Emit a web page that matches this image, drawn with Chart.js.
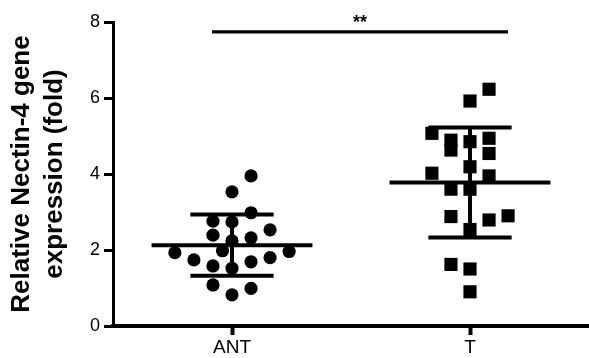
<!DOCTYPE html>
<html><head><meta charset="utf-8">
<script src="https://cdn.jsdelivr.net/npm/chart.js@4/dist/chart.umd.min.js"></script>
<style>html,body{margin:0;padding:0;background:#fff;} canvas{display:block;}</style>
</head><body>
<canvas id="c" width="589" height="358"></canvas>
<script>
// ---- data ----
const categories = ['ANT', 'T'];
const antValues = [3.95, 3.53, 2.98, 2.76, 2.74, 2.53, 2.39, 2.32, 2.24, 1.98, 1.96, 1.93, 1.80, 1.74, 1.69, 1.58, 1.52, 1.08, 0.99, 0.82];
const tValues = [6.23, 5.92, 5.07, 4.94, 4.89, 4.85, 4.63, 4.54, 4.19, 4.02, 3.95, 3.60, 3.60, 2.90, 2.88, 2.79, 2.54, 1.62, 1.50, 0.90];
const yTicks = [0, 2, 4, 6, 8];
const yTitle = ['Relative Nectin-4 gene', 'expression (fold)'];
const significance = { from: -0.084, to: 1.16, level: 7.74, label: '**' };

const FONT = '"Liberation Sans", Arial, Helvetica, sans-serif';

// Prism-like scatter-dot layout: values binned into rows, spread alternately sideways
function swarm(values, center, rowSpan, step, maxCol) {
  const sorted = values.slice().sort((a, b) => a - b);
  const pts = [];
  let row = [], rowIdx = 0;
  const flush = () => {
    const dir = rowIdx % 2 === 0 ? 1 : -1;
    const full = 2 * maxCol + 1;
    row.forEach((v, k) => {
      let off;
      if (k < full) off = k === 0 ? 0 : Math.ceil(k / 2) * (k % 2 === 1 ? dir : -dir);
      else { const j = k - full; off = (Math.floor(j / 2) + 0.5) * (j % 2 === 0 ? dir : -dir); }
      pts.push({ x: center + off * step, y: v });
    });
    rowIdx++; row = [];
  };
  sorted.forEach(v => { if (row.length && v - row[0] > rowSpan + 1e-9) flush(); row.push(v); });
  if (row.length) flush();
  return pts;
}
function stats(v) {
  const m = v.reduce((a, b) => a + b, 0) / v.length;
  const sd = Math.sqrt(v.reduce((a, b) => a + (b - m) * (b - m), 0) / (v.length - 1));
  return { m, sd };
}
function seg(x1, y1, x2, y2, w) {
  return { type: 'line', data: [{ x: x1, y: y1 }, { x: x2, y: y2 }], borderColor: '#000', borderWidth: w,
    pointRadius: 0, pointHoverRadius: 0, fill: false, tension: 0, borderCapStyle: 'butt', clip: false };
}

const groups = [antValues, tValues];
const datasets = [];
groups.forEach((vals, i) => {
  datasets.push({
    type: 'scatter', label: categories[i], data: swarm(vals, i, 0.47, 0.08, 3),
    pointStyle: i === 0 ? 'circle' : 'rect', pointRadius: i === 0 ? 6.6 : 9.3,
    pointBackgroundColor: '#000', pointBorderWidth: 0, pointHoverRadius: i === 0 ? 6.6 : 9.3
  });
  const s = stats(vals);
  datasets.push(seg(i - 0.338, s.m, i + 0.338, s.m, 4));
  datasets.push(seg(i - 0.175, s.m + s.sd, i + 0.175, s.m + s.sd, 4));
  datasets.push(seg(i - 0.175, s.m - s.sd, i + 0.175, s.m - s.sd, 4));
  datasets.push(seg(i, s.m - s.sd, i, s.m + s.sd, 4));
});
datasets.push(seg(significance.from, significance.level, significance.to, significance.level, 3.3));

const sigLabel = {
  id: 'sigLabel',
  afterDatasetsDraw(chart) {
    const { ctx, scales: { x, y } } = chart;
    ctx.save();
    ctx.font = 'bold 18px ' + FONT;
    ctx.fillStyle = '#000'; ctx.textAlign = 'center'; ctx.textBaseline = 'alphabetic';
    ctx.fillText(significance.label, x.getPixelForValue((significance.from + significance.to) / 2),
      y.getPixelForValue(significance.level) - 4);
    ctx.restore();
  }
};

new Chart(document.getElementById('c'), {
  type: 'scatter',
  data: { datasets },
  plugins: [sigLabel],
  options: {
    responsive: false, animation: false, devicePixelRatio: 1,
    layout: { autoPadding: false, padding: { top: 22, right: 0, bottom: 0, left: 0 } },
    plugins: { legend: { display: false }, tooltip: { enabled: false } },
    scales: {
      x: {
        type: 'linear', min: -0.5, max: 1.5, position: 'bottom',
        afterBuildTicks: s => { s.ticks = categories.map((c, i) => ({ value: i })); },
        afterFit: s => { s.height = 32; },
        ticks: { callback: v => categories[v], color: '#000', font: { family: FONT, size: 19 }, padding: 1, maxRotation: 0, autoSkip: false },
        grid: { drawOnChartArea: false, drawTicks: true, tickLength: 9, tickWidth: 4, tickColor: '#000' },
        border: { display: true, color: '#000', width: 4 }
      },
      y: {
        min: 0, max: 8,
        afterBuildTicks: s => { s.ticks = yTicks.map(v => ({ value: v })); },
        afterFit: s => { s.width = 113; },
        ticks: { color: '#000', font: { family: FONT, size: 18 }, padding: 4 },
        grid: { drawOnChartArea: false, drawTicks: true, tickLength: 9, tickWidth: 3, tickColor: '#000' },
        border: { display: true, color: '#000', width: 3 },
        title: { display: true, text: yTitle, color: '#000', font: { family: FONT, size: 26, weight: 'bold', lineHeight: 1.25 }, padding: { top: 6, bottom: 0 } }
      }
    }
  }
});
</script>
</body></html>
